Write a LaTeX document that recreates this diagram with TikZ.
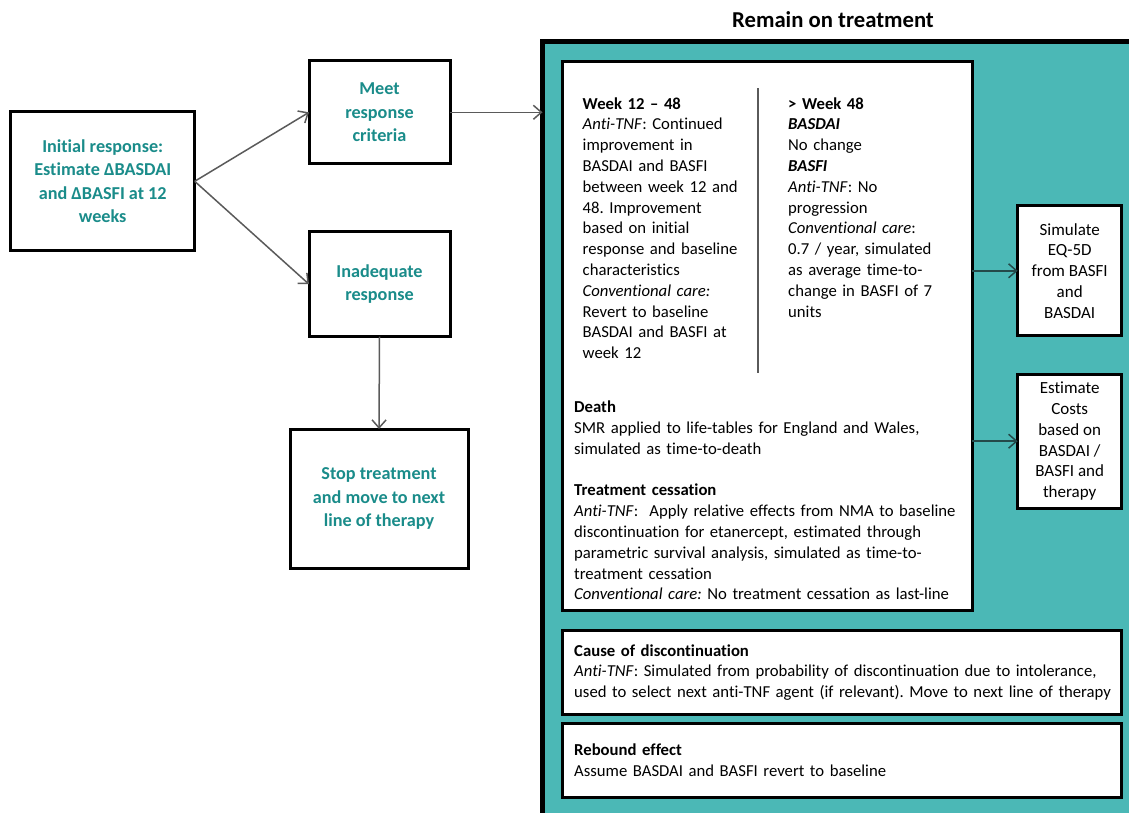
\documentclass[tikz,border=0pt]{standalone}
\usepackage{fontspec}
\setmainfont{Carlito}[Ligatures=NoCommon]
\usetikzlibrary{arrows.meta}
\definecolor{tealtext}{HTML}{1A8C8A}
\definecolor{tealfill}{HTML}{4BB8B6}
\definecolor{arrowgray}{HTML}{5A5A5A}
\definecolor{arrowdark}{HTML}{244A4A}
\frenchspacing
\hyphenpenalty=10000
\exhyphenpenalty=10000
\begin{document}
\begin{tikzpicture}[x=1pt,y=-1pt,
  box/.style={draw=black, line width=3pt, fill=white, inner sep=0pt, outer sep=0pt, align=center},
  flowtext/.style={font=\fontsize{18.2}{23.5}\selectfont\bfseries, text=tealtext},
  sidetext/.style={font=\fontsize{17}{20.8}\selectfont},
  body/.style={font=\fontsize{16.7}{20.8}\selectfont, anchor=base west, inner sep=0pt, align=left, text width=#1},
  conn/.style={draw=arrowgray, line width=1.5pt, -{Straight Barb[length=8pt,width=14pt]}},
  divider/.style={draw=arrowgray, line width=1.5pt}
]
\useasboundingbox (0,0) rectangle (1129,812);

% title and container
\node[font=\fontsize{22.7}{27}\selectfont\bfseries, anchor=base, inner sep=0pt] (title) at (833,27) {Remain on treatment};
\node[draw=black, line width=4.5pt, fill=tealfill, minimum width=620pt, minimum height=800pt, anchor=north west, inner sep=0pt, outer sep=0pt] (remain) at (542.5,41.3) {};

% left flow
\node[box, flowtext, minimum width=184pt, minimum height=139.3pt] (initial) at (102.7,181.3) {Initial response:\\Estimate ΔBASDAI\\and ΔBASFI at 12\\weeks};
\node[box, flowtext, minimum width=141pt, minimum height=103.3pt] (meet) at (379.5,112.3) {Meet\\response\\criteria};
\node[box, flowtext, minimum width=141pt, minimum height=105pt] (inadequate) at (379.5,284.2) {Inadequate\\response};
\node[box, flowtext, minimum width=178pt, minimum height=139pt] (stop) at (379,498.5) {Stop treatment\\and move to next\\line of therapy};

% boxes inside container
\node[box, minimum width=410pt, minimum height=549.5pt, anchor=north west] (main) at (562,61) {};
\node[box, minimum width=559.5pt, minimum height=84pt, anchor=north west] (causebox) at (562,630) {};
\node[box, minimum width=559.5pt, minimum height=74pt, anchor=north west] (reboundbox) at (562,723.3) {};
\node[box, sidetext, minimum width=104pt, minimum height=130.3pt] (simulate) at (1069.7,270.8) {Simulate\\EQ-5D\\from BASFI\\and\\BASDAI};
\node[box, sidetext, minimum width=104pt, minimum height=134.3pt] (estimate) at (1069.7,441.2) {Estimate\\Costs\\based on\\BASDAI /\\BASFI and\\therapy};

% texts
\node[body=200] (weekA) at (582.5,109) {\textbf{Week 12 – 48}\\
\textit{Anti-TNF}: Continued\\
improvement in\\
BASDAI and BASFI\\
between week 12 and\\
48. Improvement\\
based on initial\\
response and baseline\\
characteristics\\
\textit{Conventional care:}\\
Revert to baseline\\
BASDAI and BASFI at\\
week 12};
\node[body=200] (weekB) at (788,109) {\textbf{> Week 48}\\
\textbf{\textit{BASDAI}}\\
No change\\
\textbf{\textit{BASFI}}\\
\textit{Anti-TNF}: No\\
progression\\
\textit{Conventional care}:\\
0.7 / year, simulated\\
as average time-to-\\
change in BASFI of 7\\
units};
\node[body=500] (death) at (574,412.7) {\textbf{Death}\\
SMR applied to life-tables for England and Wales,\\
simulated as time-to-death\\[20.8pt]
\textbf{Treatment cessation}\\
\textit{Anti-TNF}:\ \ Apply relative effects from NMA to baseline\\
discontinuation for etanercept, estimated through\\
parametric survival analysis, simulated as time-to-\\
treatment cessation\\
\textit{Conventional care:} No treatment cessation as last-line};
\node[body=700] (cause) at (574,656) {\textbf{Cause of discontinuation}\\
\textit{Anti-TNF}: Simulated from probability of discontinuation due to intolerance,\\
used to select next anti-TNF agent (if relevant). Move to next line of therapy};
\node[body=700] (rebound) at (574,755.7) {\textbf{Rebound effect}\\
Assume BASDAI and BASFI revert to baseline};

% divider
\coordinate (divtop) at (758,88);
\coordinate (divbot) at (758,373);
\draw[divider] (divtop) -- (divbot);

% connectors
\draw[conn] (initial.east) -- (meet.west);
\draw[conn] (initial.east) -- (inadequate.west);
\draw[conn] (meet.east) -- (meet.east -| remain.west);
\draw[conn] (inadequate.south) -- (stop.north);
\draw[conn, draw=arrowdark] (simulate.west -| main.east) -- (simulate.west);
\draw[conn, draw=arrowdark] (estimate.west -| main.east) -- (estimate.west);
\end{tikzpicture}
\end{document}
